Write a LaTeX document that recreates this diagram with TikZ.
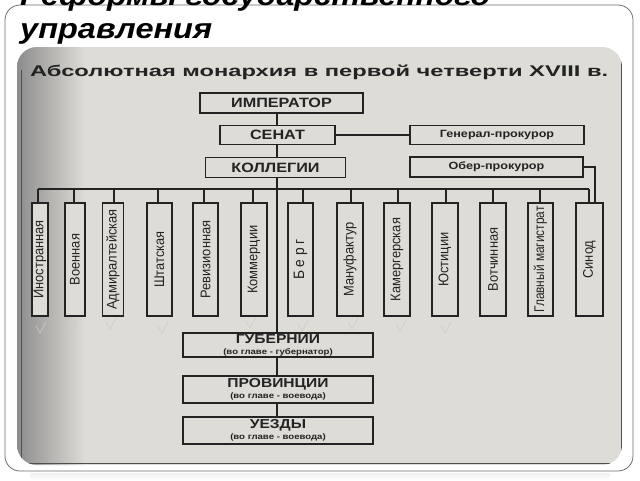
\documentclass[tikz,border=0pt]{standalone}
\usepackage{fontspec}
\setmainfont{Liberation Sans}
\newfontfamily\narrowfont[FakeStretch=0.85]{Liberation Sans}
\newfontfamily\colfont[FakeStretch=0.92]{Liberation Sans}
\newfontfamily\widefont[FakeStretch=1.2]{Liberation Sans}
\usetikzlibrary{positioning}
\definecolor{scanbg}{RGB}{222,220,214}
\definecolor{ink}{RGB}{35,35,35}
\definecolor{framegray}{RGB}{110,110,110}

\begin{document}
\begin{tikzpicture}
  [
    x=1pt, y=-1pt,
    box/.style     = {draw=ink, line width=1.1pt, fill=scanbg, inner sep=0pt, text=ink},
    topbox/.style  = {box, font=\widefont\bfseries\fontsize{13.5}{13.5}\selectfont},
    sidebox/.style = {box, font=\widefont\bfseries\fontsize{10.5}{11}\selectfont},
    colbox/.style  = {box, rotate=90, minimum width=113pt, font=\colfont\fontsize{14}{14}\selectfont},
    areabox/.style = {box, minimum width=190pt, align=center, font=\widefont\bfseries},
    link/.style    = {draw=ink, line width=1.1pt},
    tick/.style    = {draw=black!20, line width=0.6pt},
  ]

%Page size and slide frame
\useasboundingbox (0,0) rectangle (640,480);
\fill[white] (0,0) rectangle (640,480);
\shade[top color=black!6, bottom color=white] (30,473) rectangle (610,480);
\draw[framegray, line width=0.8pt, rounded corners=15] (5,5) rectangle (633,471);

%Slide title, first line cut by the page edge
\node[anchor=base west, inner sep=0pt] (title1) at (20,5)
  {\resizebox{470pt}{\height}{\fontsize{28}{28}\selectfont\bfseries\itshape Реформы государственного}};
\node[anchor=base west, inner sep=0pt] (title2) at (20,38)
  {\resizebox{192pt}{\height}{\fontsize{28}{28}\selectfont\bfseries\itshape управления}};

%Scanned page
\begin{scope}
\clip[rounded corners=20] (17,47) rectangle (622,465);
\fill[scanbg] (17,47) rectangle (622,465);
\shade[left color=black!45, right color=scanbg] (17,47) rectangle (85,465);
\draw[ink!80, line width=1pt] (21,70) -- (21,463) -- (621,463) -- (621,60);
\end{scope}

%Heading of the scheme
\node[anchor=west, inner sep=0pt, text=ink] (head) at (30,72)
  {\resizebox{578pt}{\height}{\fontsize{15.5}{15.5}\selectfont\bfseries Абсолютная монархия в первой четверти XVIII в.}};

%Upper boxes
\node[topbox, minimum width=163pt, minimum height=20pt] (imp) at (281.5,103) {ИМПЕРАТОР};
\node[topbox, minimum width=115pt, minimum height=19pt] (senat) at (277.5,135) {СЕНАТ};
\node[sidebox, minimum width=174pt, minimum height=19pt] (genpr) at (497,135) {Генерал-прокурор};
\node[topbox, minimum width=140pt, minimum height=20pt] (koll) at (275.5,167.5) {КОЛЛЕГИИ};
\node[sidebox, minimum width=173pt, minimum height=20pt] (ober) at (496.5,167) {Обер-прокурор};

\coordinate (trunk) at (277,0);
\draw[link] (trunk |- imp.south) -- (trunk |- senat.north);
\draw[link] (trunk |- senat.south) -- (trunk |- koll.north);
\draw[link] (senat.east) -- (genpr.west);

%Colleges, one box for each
\foreach [count=\i] \cx/\cw/\dx/\name in
  {40/16/38/Иностранная, 75/20/74/Военная, 113/21/114/Адмиралтейская,
   159.5/25/158/Штатская, 205.5/25/204/Ревизионная, 254/26/253/Коммерции,
   300.5/25/303/{\fontsize{15}{15}\selectfont Б е р г}, 350/26/351/Мануфактур,
   397/26/398/Камергерская, 445/26/446/Юстиции, 493/26/493/Вотчинная,
   540.5/25/540/{\narrowfont Главный магистрат}, 589.5/27/589/Синод}
{
\node[colbox, minimum height=\cw pt] (col\i) at (\cx,259.5) {\name};
\coordinate (bus\i) at (\dx,189);
\draw[link] (bus\i) -- (bus\i |- col\i.east);
}
\draw[link] (bus1) -- (bus13);
\draw[link] (ober.east) -| ([xshift=5.5pt]col13.east);

%Local government
\node[areabox, minimum height=24pt] (gub) at (278,345)
  {{\fontsize{13}{13}\selectfont ГУБЕРНИИ}\\[-1pt]{\fontsize{8}{8}\selectfont (во главе - губернатор)}};
\node[areabox, minimum height=27pt] (prov) at (278,389.5)
  {{\fontsize{13}{13}\selectfont ПРОВИНЦИИ}\\[-1pt]{\fontsize{8}{8}\selectfont (во главе - воевода)}};
\node[areabox, minimum height=27pt] (uezd) at (278,430.5)
  {{\fontsize{13}{13}\selectfont УЕЗДЫ}\\[-1pt]{\fontsize{8}{8}\selectfont (во главе - воевода)}};

\draw[link] (trunk |- koll.south) -- (trunk |- gub.north);
\draw[link] (trunk |- gub.south) -- (trunk |- prov.north);
\draw[link] (trunk |- prov.south) -- (trunk |- uezd.north);

%Pencil ticks under the colleges
\foreach \tx/\ty in {40/330, 72/328, 110/326, 162/330, 250/325, 302/328, 352/326, 400/328, 445/330}
{
\draw[tick] (\tx-4,\ty-4) -- (\tx,\ty+3) -- (\tx+6,\ty-8);
}

%
\end{tikzpicture}
\end{document}
